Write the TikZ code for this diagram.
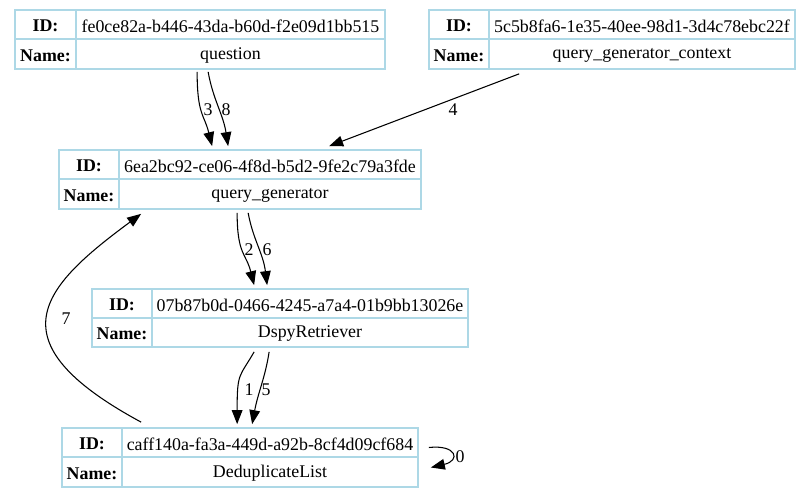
\documentclass[tikz,border=0pt]{standalone}
\usepackage{fontspec}
\setmainfont{Liberation Serif}
\usetikzlibrary{fit,calc,arrows.meta}
\definecolor{tabline}{HTML}{ADD8E6}
\tikzset{
  tabbox/.style={draw=tabline, line width=1.3pt, inner sep=0pt},
  tabsep/.style={draw=tabline, line width=1.3pt},
  keytxt/.style={font=\fontsize{13.4}{16}\selectfont\bfseries, inner sep=0pt},
  valtxt/.style={font=\fontsize{13.4}{16}\selectfont, inner sep=0pt},
  edge/.style={draw=black, line width=0.8pt, -{Triangle[length=10.5pt,width=8pt]}},
  elabel/.style={font=\fontsize{13.4}{16}\selectfont, inner sep=0pt},
}
% name, x1, y1, x2, y2, xc, yr, id, label
\newcommand\gvtab[9]{%
  \node[tabbox, fit={(#2,#3) (#4,#5)}] (#1) {};
  \draw[tabsep] (#6,#3) -- (#6,#5);
  \draw[tabsep] (#2,#7) -- (#4,#7);
  \node[keytxt] (#1-idk) at ({(#2+#6)/2},{(#3+#7)/2+1.5}) {ID:};
  \node[keytxt] (#1-nmk) at ({(#2+#6)/2},{(#7+#5)/2+1.5}) {Name:};
  \node[valtxt] (#1-idv) at ({(#6+#4)/2},{(#3+#7)/2+1.5}) {#8};
  \node[valtxt] (#1-nmv) at ({(#6+#4)/2},{(#7+#5)/2+1.5}) {#9};
}
\begin{document}
\begin{tikzpicture}[x=0.75pt,y=-0.75pt]
\useasboundingbox[fill=white] (0,0) rectangle (811,498);

\gvtab{q}{15}{10}{385}{69}{76}{39}{fe0ce82a-b446-43da-b60d-f2e09d1bb515}{question}
\gvtab{qgc}{429}{10}{795}{69}{489}{39}{5c5b8fa6-1e35-40ee-98d1-3d4c78ebc22f}{query\_generator\_context}
\gvtab{qg}{59}{150}{421}{209}{119}{179}{6ea2bc92-ce06-4f8d-b5d2-9fe2c79a3fde}{query\_generator}
\gvtab{dr}{92}{289}{468}{347}{152}{318}{07b87b0d-0466-4245-a7a4-01b9bb13026e}{DspyRetriever}
\gvtab{dl}{62}{428}{418}{487}{122}{457}{caff140a-fa3a-449d-a92b-8cf4d09cf684}{DeduplicateList}

% question -> query_generator (3, 8)
\draw[edge] ($(q.south west)+(183,2)$) .. controls ($(q.south west)+(183,45)$) and ($(qg.north west)+(146,-35)$) .. ($(qg.north west)+(154,-3)$);
\node[elabel] (l3) at (208,110) {3};
\draw[edge] ($(q.south west)+(194,2)$) .. controls ($(q.south west)+(199,30)$) and ($(qg.north west)+(165,-35)$) .. ($(qg.north west)+(170,-3)$);
\node[elabel] (l8) at (226,110) {8};

% query_generator_context -> query_generator (4)
\draw[edge] ($(qgc.south west)+(91,4)$) -- ($(qg.north west)+(271,-3)$);
\node[elabel] (l4) at (453,110) {4};

% query_generator -> DspyRetriever (2, 6)
\draw[edge] ($(qg.south west)+(179,3)$) .. controls ($(qg.south west)+(179,45)$) and ($(dr.north west)+(155,-35)$) .. ($(dr.north west)+(163,-3)$);
\node[elabel] (l2) at (249,250) {2};
\draw[edge] ($(qg.south west)+(190,3)$) .. controls ($(qg.south west)+(195,30)$) and ($(dr.north west)+(172,-35)$) .. ($(dr.north west)+(176,-3)$);
\node[elabel] (l6) at (267,250) {6};

% DspyRetriever -> DeduplicateList (1, 5)
\draw[edge] ($(dr.south west)+(163,4)$) .. controls ($(dr.south west)+(148,30)$) and ($(dl.north west)+(176,-55)$) .. ($(dl.north west)+(176,-3)$);
\node[elabel] (l1) at (249,390) {1};
\draw[edge] ($(dr.south west)+(178,4)$) .. controls ($(dr.south west)+(174,30)$) and ($(dl.north west)+(197,-35)$) .. ($(dl.north west)+(191,-3)$);
\node[elabel] (l5) at (266,390) {5};

% DeduplicateList -> query_generator (7)
\draw[edge] ($(dl.north west)+(80,-5)$) .. controls (-9,341) and (42,287) .. ($(qg.south west)+(83,4)$);
\node[elabel] (l7) at (66,319) {7};

% DeduplicateList self loop (0)
\draw[edge] ($(dl.east)+(10,-10)$) .. controls ($(dl.east)+(38,-13)$) and ($(dl.east)+(42,3)$) .. ($(dl.east)+(12,10)$);
\node[elabel] (l0) at (460,457) {0};
\end{tikzpicture}
\end{document}
